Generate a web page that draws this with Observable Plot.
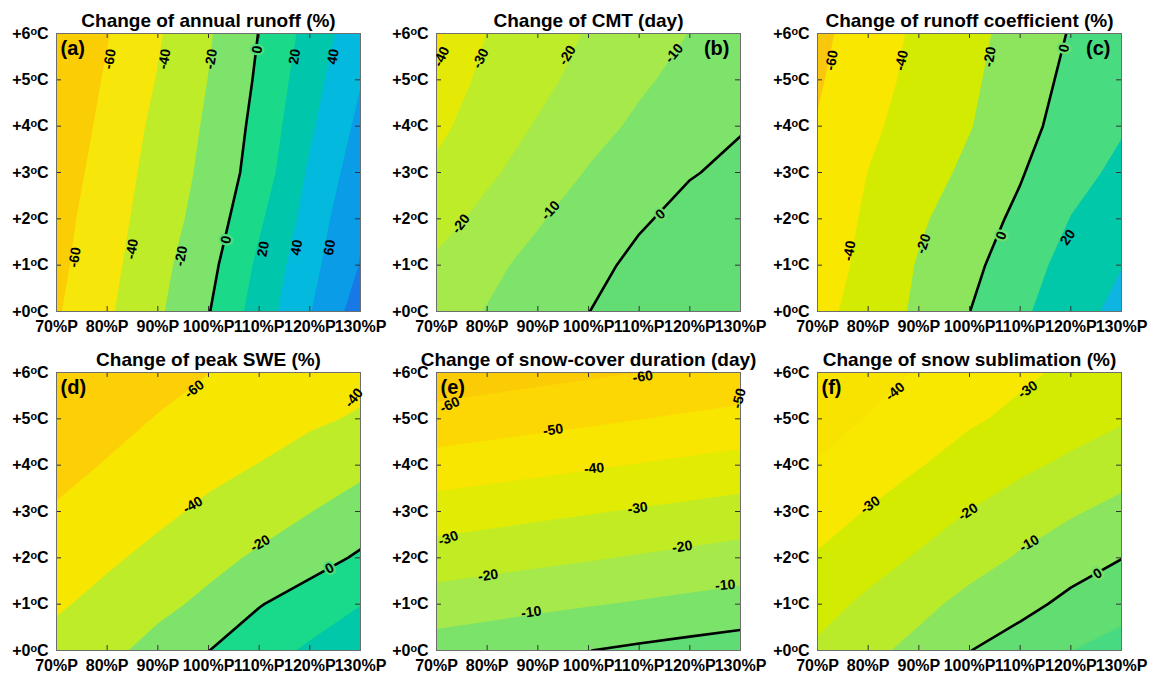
<!DOCTYPE html>
<html>
<head>
<meta charset="utf-8">
<script src="https://cdn.jsdelivr.net/npm/d3@7"></script>
<script src="https://cdn.jsdelivr.net/npm/@observablehq/plot@0.6"></script>
<style>
  html, body { margin: 0; padding: 0; background: #ffffff; }
  #root { position: relative; width: 1149px; height: 676px; overflow: hidden; background: #ffffff;
          font-family: "Liberation Sans", Arial, sans-serif; }
  .panel { position: absolute; }
</style>
</head>
<body>
<div id="root"></div>
<script>
// ---------- axes ----------
const pLevels = [70, 80, 90, 100, 110, 120, 130];
const tLevels = [0, 1, 2, 3, 4, 5, 6];
const pTickLabels = ["70%P", "80%P", "90%P", "100%P", "110%P", "120%P", "130%P"];
const tTickLabels = ["+0ᵒC", "+1ᵒC", "+2ᵒC", "+3ᵒC", "+4ᵒC", "+5ᵒC", "+6ᵒC"];

// ---------- grid values: one row per temperature level (0..6 °C), columns = 70..130 %P ----------
const runoffValues = [
  [-62, -43, -23, -1, 29, 59, 90],
  [-65, -46, -26, -6, 24, 54, 81],
  [-67, -49, -29, -12, 17, 48, 78],
  [-70, -52, -32, -15, 9, 43, 71],
  [-73, -55, -35, -17, 6, 37, 65],
  [-75, -58, -39, -19.6, 3, 32, 59],
  [-78, -61, -42, -22, 0.5, 27, 53]
];
const cmtValues = [
  [-14.5, -9.6, -5, -0.1, 3.5, 6, 8],
  [-18.5, -12, -7.5, -2.5, 2, 4.5, 6],
  [-23.3, -17.5, -10.8, -6, -1, 2.5, 4],
  [-28, -21.5, -16, -9.3, -5, -0.5, 1.8],
  [-32.5, -24.5, -19.3, -13.5, -8.2, -4, -0.5],
  [-37, -27, -22.3, -17, -11.5, -7, -3.3],
  [-42, -29.8, -24.5, -19.3, -14.5, -9.8, -6]
];
const coefValues = [
  [-46, -31.5, -16.5, -0.2, 16.5, 31.5, 46],
  [-49, -35, -18.5, -4.5, 10, 28, 39.5],
  [-52, -37, -23, -9, 4, 20.5, 32],
  [-55, -39.7, -29, -15.5, -1.5, 14, 24],
  [-59, -44, -31, -21, -6.5, 8, 18.5],
  [-62, -48, -34, -23.5, -9.5, 4.5, 15.5],
  [-64, -52, -35.5, -25.3, -13, 1.3, 13]
];
const sweValues = [
  [-33, -25, -13, -0.3, 12, 23, 32],
  [-42.5, -34, -25, -15.5, -1, 9, 19.5],
  [-50.5, -43, -35, -26, -17, -7.5, 2.5],
  [-58.5, -51.5, -44, -36.5, -29, -20.5, -11],
  [-65, -59, -52, -45, -39.5, -32, -25],
  [-70, -65, -59.3, -53.5, -48, -43, -38],
  [-74, -70, -65, -60.2, -55, -50.5, -46]
];
const scdValues = [
  [-5.5, -3.8, -2, -0.1, 1.6, 3.2, 4.8],
  [-15.2, -13.7, -12.1, -10.6, -9.1, -7.5, -6],
  [-25.5, -23.9, -22.3, -20.8, -19.2, -17.6, -16],
  [-35.3, -33.8, -32.2, -30.7, -29.1, -27.6, -26],
  [-46, -44.4, -42.8, -41.2, -39.5, -37.9, -36.3],
  [-56.5, -54.9, -53.3, -51.8, -50.2, -48.6, -47],
  [-66, -64.5, -63, -61.5, -59.9, -58.5, -57]
];
const sublValues = [
  [-18.3, -12.5, -7, -0.2, 5, 9.9, 14],
  [-23.7, -18, -12.7, -7, -3, 2.5, 6.5],
  [-29.1, -24, -19, -14, -9, -4.5, -0.2],
  [-34.3, -29.5, -24.5, -19.8, -15, -11, -7.3],
  [-39.3, -35, -30.5, -26, -22, -18, -14],
  [-44, -39.5, -35, -31.2, -28, -24.5, -21],
  [-48, -44, -39.2, -35, -31.5, -28.5, -26.5]
];

// ---------- contour levels ----------
const runoffThresholds = [-80, -60, -40, -20, 0, 20, 40, 60, 80];
const cmtThresholds = [-50, -40, -30, -20, -10, 0];
const coefThresholds = [-80, -60, -40, -20, 0, 20, 40];
const sweThresholds = [-80, -60, -40, -20, 0, 20];
const scdThresholds = [-70, -60, -50, -40, -30, -20, -10, 0];
const sublThresholds = [-50, -40, -30, -20, -10, 0, 10];

// ---------- band colours (one per level, band above that level) ----------
const runoffColors = ["#FBCD05", "#F6E60A", "#BEEC28", "#7DE36A", "#1ADA8A", "#00C7AC", "#04B9DE", "#0B9CE7", "#1779E6"];
const cmtColors = ["#F8DF00", "#E4EA06", "#BEEC28", "#A5E94A", "#7DE36A", "#62DD73"];
const coefColors = ["#F9C70E", "#FAE700", "#D3EB00", "#8DE55E", "#48DB80", "#00C8A9", "#0FB5E1"];
const sweColors = ["#FCCF06", "#F7E700", "#BEEC28", "#7DE36A", "#19D98A", "#00C8A8"];
const scdColors = ["#FBCB05", "#FDD703", "#F8E500", "#E2EB03", "#C1EC24", "#A5E94A", "#7CE36A", "#5FDC74"];
const sublColors = ["#F8E300", "#F8E800", "#D3EB00", "#BAEB2A", "#8CE55E", "#62DD72", "#47DA81"];

// ---------- inline contour labels: [%P, °C, text, angle] ----------
const runoffLabels = [
  [80.5, 5.45, "-60", -80], [91.3, 5.45, "-40", -80], [100.5, 5.45, "-20", -80], [109.6, 5.65, "0", -80],
  [117, 5.5, "20", -80], [124.6, 5.5, "40", -80],
  [73.6, 1.17, "-60", -80], [84.9, 1.35, "-40", -80], [94.6, 1.2, "-20", -80], [103.5, 1.55, "0", -78],
  [110.8, 1.35, "20", -80], [117.4, 1.38, "40", -80], [123.9, 1.38, "60", -80]
];
const cmtLabels = [
  [71, 5.5, "-40", -65], [78.7, 5.46, "-30", -65], [95.8, 5.53, "-20", -58], [116.9, 5.57, "-10", -50],
  [74.8, 1.89, "-20", -52], [92.5, 2.18, "-10", -48], [114.2, 2.1, "0", -42]
];
const coefLabels = [
  [72.8, 5.42, "-60", -80], [86.6, 5.42, "-40", -78], [104, 5.5, "-20", -80], [118.7, 5.68, "0", -78],
  [76.3, 1.31, "-40", -80], [90.9, 1.46, "-20", -72], [106.3, 1.64, "0", -70], [119.4, 1.6, "20", -55]
];
const sweLabels = [
  [97.2, 5.64, "-60", -38], [128.7, 5.45, "-40", -50], [96.9, 3.14, "-40", -30],
  [110.2, 2.31, "-20", -30], [123.9, 1.77, "0", -28]
];
const scdLabels = [
  [72.6, 5.3, "-60", -25], [110.7, 5.91, "-60", -8], [93, 4.76, "-50", -8], [129.7, 5.44, "-50", -75],
  [101.1, 3.93, "-40", -5], [72.3, 2.42, "-30", -20], [109.7, 3.07, "-30", -8], [80.2, 1.62, "-20", -8],
  [118.5, 2.24, "-20", -8], [88.7, 0.83, "-10", -8], [127, 1.41, "-10", -5]
];
const sublLabels = [
  [85.3, 5.59, "-40", -40], [111.5, 5.63, "-30", -35], [80.4, 3.14, "-30", -35],
  [99.7, 2.99, "-20", -33], [111.8, 2.31, "-10", -30], [125.3, 1.66, "0", -30]
];

const titles = [
  "Change of annual runoff (%)", "Change of CMT (day)", "Change of runoff coefficient (%)",
  "Change of peak SWE (%)", "Change of snow-cover duration (day)", "Change of snow sublimation (%)"
];
const letters = ["(a)", "(b)", "(c)", "(d)", "(e)", "(f)"];

const panels = [
  {values: runoffValues, thresholds: runoffThresholds, colors: runoffColors, labels: runoffLabels},
  {values: cmtValues, thresholds: cmtThresholds, colors: cmtColors, labels: cmtLabels},
  {values: coefValues, thresholds: coefThresholds, colors: coefColors, labels: coefLabels},
  {values: sweValues, thresholds: sweThresholds, colors: sweColors, labels: sweLabels},
  {values: scdValues, thresholds: scdThresholds, colors: scdColors, labels: scdLabels},
  {values: sublValues, thresholds: sublThresholds, colors: sublColors, labels: sublLabels}
];

// ---------- layout ----------
const frameLefts = [56, 436, 817];
const frameTops = [33, 372];
const FW = 304, FH = 278;
const ML = 56, MR = 24, MT = 33, MB = 32;
const font = "'Liberation Sans', Arial, Helvetica, sans-serif";

const root = document.getElementById("root");
const dx = pLevels[1] - pLevels[0];
const dy = tLevels[1] - tLevels[0];
const gridOpts = {
  width: pLevels.length, height: tLevels.length,
  x1: pLevels[0] - dx / 2, x2: pLevels[pLevels.length - 1] + dx / 2,
  y1: tLevels[0] - dy / 2, y2: tLevels[tLevels.length - 1] + dy / 2
};

panels.forEach((p, k) => {
  const col = k % 3, row = Math.floor(k / 3);
  const grid = p.values.flat();
  const iz = p.thresholds.indexOf(0);
  const haloColor = d3.interpolateRgb(p.colors[iz - 1], p.colors[iz])(0.5);
  const letterRight = row === 0 && col > 0;
  const zeroLabels = p.labels.filter(d => d[2] === "0");
  const otherLabels = p.labels.filter(d => d[2] !== "0");

  const chart = Plot.plot({
    width: ML + FW + MR,
    height: MT + FH + MB,
    marginLeft: ML, marginRight: MR, marginTop: MT, marginBottom: MB,
    style: {background: "transparent", overflow: "visible", fontFamily: font, color: "black", fontSize: "16px"},
    x: {domain: [pLevels[0], pLevels[pLevels.length - 1]]},
    y: {domain: [tLevels[0], tLevels[tLevels.length - 1]]},
    color: {type: "ordinal", domain: p.thresholds, range: p.colors},
    marks: [
      Plot.frame({fill: p.colors[0], stroke: "none"}),
      Plot.contour(grid, {...gridOpts, fill: Plot.identity, stroke: "none", thresholds: p.thresholds, clip: true}),
      Plot.contour(grid, {...gridOpts, value: Plot.identity, thresholds: [0], fill: "none", stroke: "black", strokeWidth: 2.6, clip: true}),
      Plot.tickX(pLevels, {x: d => d, insetTop: FH - 5, stroke: "#333", strokeWidth: 1}),
      Plot.tickX(pLevels, {x: d => d, insetBottom: FH - 5, stroke: "#333", strokeWidth: 1}),
      Plot.tickY(tLevels, {y: d => d, insetRight: FW - 5, stroke: "#333", strokeWidth: 1}),
      Plot.tickY(tLevels, {y: d => d, insetLeft: FW - 5, stroke: "#333", strokeWidth: 1}),
      Plot.frame({stroke: "#6e6e6e", strokeWidth: 1}),
      Plot.axisX(pLevels, {tickSize: 0, tickPadding: 9, label: null,
        tickFormat: d => pTickLabels[pLevels.indexOf(d)], fontSize: 16, fontWeight: "bold"}),
      Plot.axisY(tLevels, {tickSize: 0, tickPadding: 8, label: null,
        tickFormat: d => tTickLabels[tLevels.indexOf(d)], fontSize: 16, fontWeight: "bold"}),
      Plot.text(otherLabels, {x: d => d[0], y: d => d[1], text: d => d[2], rotate: d => d[3],
        fontSize: 14, fontWeight: "bold", fill: "black"}),
      Plot.text(zeroLabels, {x: d => d[0], y: d => d[1], text: d => d[2], rotate: d => d[3],
        fontSize: 14, fontWeight: "bold", fill: "black", stroke: haloColor, strokeWidth: 4.5, paintOrder: "stroke"}),
      Plot.text([titles[k]], {text: d => d, frameAnchor: "top", dy: -7, lineAnchor: "bottom",
        fontSize: 19, fontWeight: "bold", fill: "black"}),
      Plot.text([letters[k]], {text: d => d, frameAnchor: letterRight ? "top-right" : "top-left",
        textAnchor: letterRight ? "end" : "start", dx: letterRight ? -11 : 4, dy: 7, lineAnchor: "top",
        fontSize: 20, fontWeight: "bold", fill: "black"})
    ]
  });

  const wrap = document.createElement("div");
  wrap.className = "panel";
  wrap.style.left = (frameLefts[col] - ML) + "px";
  wrap.style.top = (frameTops[row] - MT) + "px";
  wrap.appendChild(chart);
  root.appendChild(wrap);
});
</script>
</body>
</html>
